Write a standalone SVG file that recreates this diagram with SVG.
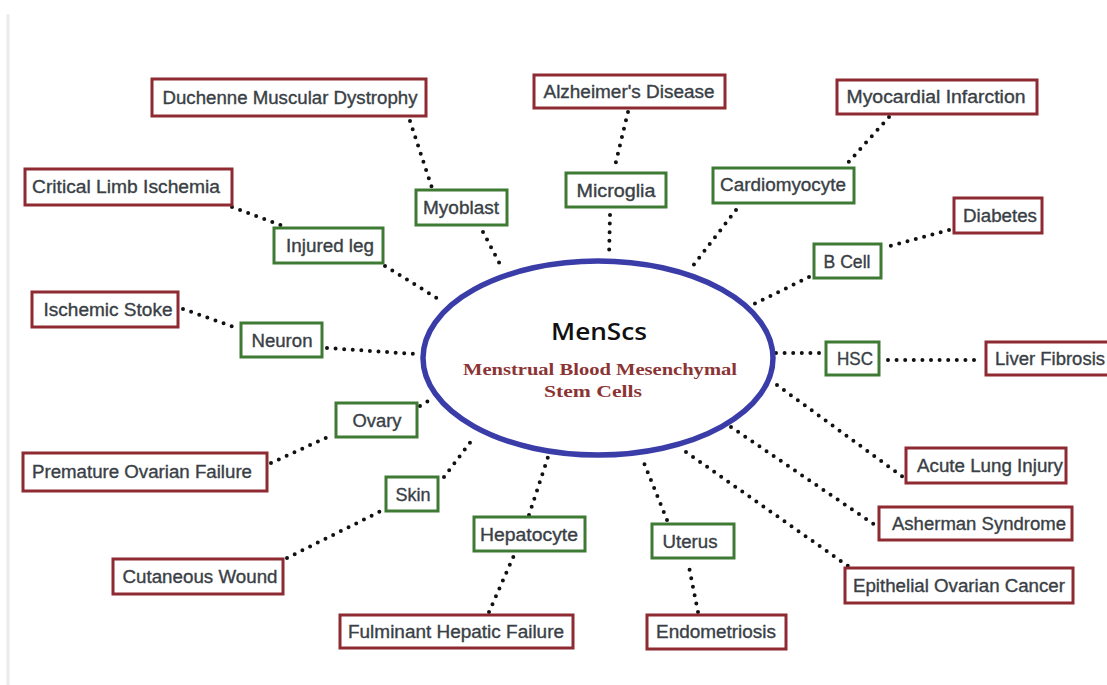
<svg xmlns="http://www.w3.org/2000/svg" width="1107" height="685" viewBox="0 0 1107 685">
<style>
.red{fill:#ffffff;stroke:#8e2a31;stroke-width:3}
.grn{fill:#ffffff;stroke:#3f7a35;stroke-width:3}
.lbl{font-family:"Liberation Sans",Arial,sans-serif;font-size:17.5px;fill:#3a3f46;stroke:#3a3f46;stroke-width:0.35;text-anchor:middle}
.dot{fill:none;stroke:#111;stroke-width:4;stroke-linecap:round;stroke-dasharray:0 8.6}
</style>
<rect width="1107" height="685" fill="#ffffff"/>
<line x1="8" y1="14" x2="8" y2="685" stroke="#ebebeb" stroke-width="3"/>
<g id="connectors">
<line class="dot" x1="410" y1="121" x2="432" y2="188"/>
<line class="dot" x1="483" y1="232" x2="502" y2="268"/>
<line class="dot" x1="232" y1="207" x2="283" y2="226"/>
<line class="dot" x1="385" y1="266" x2="440" y2="300"/>
<line class="dot" x1="628" y1="112" x2="614" y2="170"/>
<line class="dot" x1="610" y1="215" x2="609" y2="257"/>
<line class="dot" x1="889" y1="117" x2="846" y2="165"/>
<line class="dot" x1="736" y1="210" x2="692" y2="267"/>
<line class="dot" x1="949" y1="230" x2="886" y2="247"/>
<line class="dot" x1="809" y1="277" x2="752" y2="305"/>
<line class="dot" x1="183" y1="309" x2="237" y2="328"/>
<line class="dot" x1="327" y1="348" x2="415" y2="354"/>
<line class="dot" x1="420" y1="406" x2="430" y2="400"/>
<line class="dot" x1="271" y1="463" x2="332" y2="435"/>
<line class="dot" x1="444" y1="477" x2="472" y2="440"/>
<line class="dot" x1="287" y1="558" x2="383" y2="510"/>
<line class="dot" x1="529" y1="515" x2="548" y2="457"/>
<line class="dot" x1="489" y1="612" x2="515" y2="553"/>
<line class="dot" x1="667" y1="520" x2="642" y2="458"/>
<line class="dot" x1="698" y1="612" x2="688" y2="562"/>
<line class="dot" x1="776" y1="353" x2="822" y2="353"/>
<line class="dot" x1="888" y1="360" x2="980" y2="360"/>
<line class="dot" x1="777" y1="385" x2="903" y2="477"/>
<line class="dot" x1="731" y1="427" x2="875" y2="525"/>
<line class="dot" x1="686" y1="452" x2="848" y2="566"/>
</g>
<g id="center">
<ellipse cx="598" cy="358" rx="175" ry="97" fill="#ffffff" stroke="#3a3da8" stroke-width="5.5"/>
<text x="599" y="340" font-family="'Open Sans','Liberation Sans',sans-serif" font-size="24" font-weight="600" fill="#111" text-anchor="middle" textLength="96" lengthAdjust="spacingAndGlyphs">MenScs</text>
<text x="600" y="375" font-family="'Liberation Serif','Times New Roman',serif" font-size="16" font-weight="bold" fill="#8b3434" text-anchor="middle" textLength="274" lengthAdjust="spacingAndGlyphs">Menstrual Blood Mesenchymal</text>
<text x="593" y="397" font-family="'Liberation Serif','Times New Roman',serif" font-size="16" font-weight="bold" fill="#8b3434" text-anchor="middle" textLength="98" lengthAdjust="spacingAndGlyphs">Stem Cells</text>
</g>
<g id="duchenne"><rect class="red" x="152" y="79" width="274" height="37"/><text class="lbl" x="290" y="104" textLength="255" lengthAdjust="spacingAndGlyphs">Duchenne Muscular Dystrophy</text></g>
<g id="alzheimer"><rect class="red" x="534" y="75" width="191" height="33"/><text class="lbl" x="629" y="98" textLength="171" lengthAdjust="spacingAndGlyphs">Alzheimer's Disease</text></g>
<g id="myocardial"><rect class="red" x="837" y="80" width="200" height="34"/><text class="lbl" x="936" y="103" textLength="179" lengthAdjust="spacingAndGlyphs">Myocardial Infarction</text></g>
<g id="critical"><rect class="red" x="25" y="169" width="207" height="36"/><text class="lbl" x="126" y="193" textLength="188" lengthAdjust="spacingAndGlyphs">Critical Limb Ischemia</text></g>
<g id="myoblast"><rect class="grn" x="416" y="190" width="91" height="35"/><text class="lbl" x="461" y="214" textLength="76" lengthAdjust="spacingAndGlyphs">Myoblast</text></g>
<g id="microglia"><rect class="grn" x="566" y="173" width="100" height="34"/><text class="lbl" x="616" y="197" textLength="79" lengthAdjust="spacingAndGlyphs">Microglia</text></g>
<g id="cardiomyocyte"><rect class="grn" x="713" y="168" width="141" height="35"/><text class="lbl" x="783" y="191" textLength="126" lengthAdjust="spacingAndGlyphs">Cardiomyocyte</text></g>
<g id="diabetes"><rect class="red" x="954" y="198" width="88" height="35"/><text class="lbl" x="1000" y="222" textLength="74" lengthAdjust="spacingAndGlyphs">Diabetes</text></g>
<g id="injuredleg"><rect class="grn" x="274" y="228" width="109" height="35"/><text class="lbl" x="330" y="252" textLength="88" lengthAdjust="spacingAndGlyphs">Injured leg</text></g>
<g id="bcell"><rect class="grn" x="814" y="244" width="67" height="34"/><text class="lbl" x="847" y="268" textLength="47" lengthAdjust="spacingAndGlyphs">B Cell</text></g>
<g id="ischemic"><rect class="red" x="32" y="292" width="146" height="35"/><text class="lbl" x="108" y="316" textLength="129" lengthAdjust="spacingAndGlyphs">Ischemic Stoke</text></g>
<g id="neuron"><rect class="grn" x="241" y="323" width="81" height="34"/><text class="lbl" x="282" y="347" textLength="61" lengthAdjust="spacingAndGlyphs">Neuron</text></g>
<g id="hsc"><rect class="grn" x="826" y="342" width="53" height="33"/><text class="lbl" x="855" y="365" textLength="36" lengthAdjust="spacingAndGlyphs">HSC</text></g>
<g id="liver"><rect class="red" x="986" y="342" width="130" height="33"/><text class="lbl" x="1050" y="365" textLength="110" lengthAdjust="spacingAndGlyphs">Liver Fibrosis</text></g>
<g id="ovary"><rect class="grn" x="336" y="403" width="81" height="34"/><text class="lbl" x="377" y="427" textLength="49" lengthAdjust="spacingAndGlyphs">Ovary</text></g>
<g id="premature"><rect class="red" x="23" y="453" width="244" height="38"/><text class="lbl" x="142" y="478" textLength="220" lengthAdjust="spacingAndGlyphs">Premature Ovarian Failure</text></g>
<g id="acutelung"><rect class="red" x="906" y="448" width="160" height="35"/><text class="lbl" x="990" y="472" textLength="146" lengthAdjust="spacingAndGlyphs">Acute Lung Injury</text></g>
<g id="skin"><rect class="grn" x="386" y="477" width="52" height="34"/><text class="lbl" x="413" y="501" textLength="35" lengthAdjust="spacingAndGlyphs">Skin</text></g>
<g id="asherman"><rect class="red" x="879" y="507" width="193" height="33"/><text class="lbl" x="979" y="530" textLength="174" lengthAdjust="spacingAndGlyphs">Asherman Syndrome</text></g>
<g id="hepatocyte"><rect class="grn" x="474" y="517" width="111" height="34"/><text class="lbl" x="529" y="541" textLength="98" lengthAdjust="spacingAndGlyphs">Hepatocyte</text></g>
<g id="uterus"><rect class="grn" x="652" y="524" width="82" height="34"/><text class="lbl" x="690" y="548" textLength="55" lengthAdjust="spacingAndGlyphs">Uterus</text></g>
<g id="cutaneous"><rect class="red" x="113" y="559" width="170" height="35"/><text class="lbl" x="200" y="583" textLength="155" lengthAdjust="spacingAndGlyphs">Cutaneous Wound</text></g>
<g id="epithelial"><rect class="red" x="845" y="568" width="228" height="35"/><text class="lbl" x="959" y="592" textLength="212" lengthAdjust="spacingAndGlyphs">Epithelial Ovarian Cancer</text></g>
<g id="fulminant"><rect class="red" x="340" y="615" width="233" height="33"/><text class="lbl" x="456" y="638" textLength="216" lengthAdjust="spacingAndGlyphs">Fulminant Hepatic Failure</text></g>
<g id="endometriosis"><rect class="red" x="647" y="615" width="139" height="34"/><text class="lbl" x="716" y="638" textLength="120" lengthAdjust="spacingAndGlyphs">Endometriosis</text></g>
</svg>
